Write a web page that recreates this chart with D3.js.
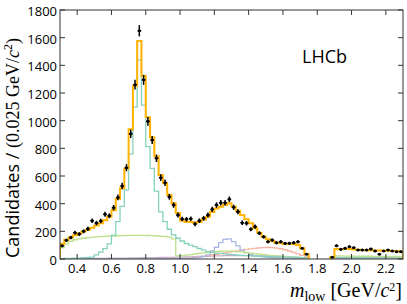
<!DOCTYPE html>
<html>
<head>
<meta charset="utf-8">
<script src="https://cdn.jsdelivr.net/npm/d3@7"></script>
<style>
  body { margin: 0; background: #fff; }
  svg { display: block; }
</style>
</head>
<body>
<div id="chart"></div>
<script>
// bins of 0.025 GeV from 0.3 to 2.3, null = vetoed region
const binLow = d3.range(80).map(i => 0.3 + i * 0.025)
const _ = null

const candidates = [95,135,155,190,180,200,218,277,260,275,
  323,313,371,445,528,660,905,1260,1650,1295,
  995,860,728,588,552,450,390,318,289,287,
  291,253,277,294,318,359,390,407,407,432,
  374,342,262,258,215,234,186,161,125,137,
  118,125,113,113,118,125,77,35,_,_,
  _,_,_,12,96,70,77,89,82,65,
  65,65,72,58,35,58,65,58,53,53]

const totalFit = [110,140,155,172,185,198,212,226,242,258,
  280,305,352,435,512,655,938,1253,1576,1323,
  1024,878,742,607,548,463,403,332,278,270,
  268,262,268,285,306,340,365,378,392,403,
  378,349,318,287,258,222,190,161,142,130,
  118,113,108,108,108,101,77,36,_,_,
  _,_,_,12,72,70,72,72,68,66,
  65,64,64,62,62,60,60,58,57,56]

const rhoComp = [3,4,5,6,7,9,11,14,30,50,
  75,110,173,270,380,500,760,1100,1440,1113,
  812,655,490,340,270,215,175,150,130,112,
  100,89,76,64,54,48,43,40,37,34,
  31,28,26,24,22,21,20,19,18,17,
  16,15,14,13,12,11,10,9,_,_,
  _,_,_,3,10,10,10,9,9,9,
  9,8,8,8,8,8,7,7,7,7]

const swaveComp = [80,110,128,139,145,150,154,157,160,162,
  164,165,166,168,169,170,171,171,171,171,
  170,169,168,166,163,158,145,22,25,28,
  32,36,40,44,48,51,54,56,57,57,
  56,54,51,47,43,39,35,31,28,25,
  22,20,18,16,14,12,10,8,_,_,
  _,_,_,4,22,22,21,21,21,20,
  20,20,20,19,19,19,18,18,18,18]

const f2Comp = [2,2,2,2,2,2,2,2,2,2,
  2,2,2,2,2,2,2,2,2,2,
  2,2,2,2,2,2,3,3,4,4,
  5,8,12,18,30,58,85,118,142,145,
  125,95,66,46,33,25,19,15,12,10,
  9,8,7,6,6,5,5,4,_,_,
  _,_,_,1,4,4,4,4,4,4,
  4,4,4,4,4,4,4,4,4,4]

const highComp = [1,1,1,1,1,1,1,1,1,1,
  1,1,1,1,1,1,1,1,1,1,
  1,1,1,1,1,1,2,2,3,5,
  8,11,15,19,24,29,34,39,44,49,
  54,59,64,69,73,77,80,82,83,82,
  79,74,67,58,48,37,26,15,_,_,
  _,_,_,2,8,8,8,8,8,8,
  8,8,8,8,8,8,8,8,8,8]

const bkgComp = [2,2,3,3,3,4,4,4,5,5,
  5,6,6,6,7,7,8,8,8,9,
  9,10,10,11,11,12,12,13,14,15,
  16,17,18,19,20,21,22,23,24,24,
  25,25,25,25,24,24,23,22,21,20,
  19,18,17,16,14,12,10,8,_,_,
  _,_,_,3,12,12,12,11,11,11,
  11,10,10,10,10,10,10,9,9,9]

const xTicks = [0.4, 0.6, 0.8, 1.0, 1.2, 1.4, 1.6, 1.8, 2.0, 2.2]
const xTickLabels = ["0.4", "0.6", "0.8", "1.0", "1.2", "1.4", "1.6", "1.8", "2.0", "2.2"]
const yTicks = [0, 200, 400, 600, 800, 1000, 1200, 1400, 1600, 1800]

const width = 407, height = 304
const margin = {left: 60, right: 4, top: 10, bottom: 45}
const binWidth = 0.025

const svg = d3.select("#chart").append("svg")
  .attr("width", width)
  .attr("height", height)

const x = d3.scaleLinear().domain([0.3, 2.3]).range([margin.left, width - margin.right])
const y = d3.scaleLinear().domain([0, 1800]).range([height - margin.bottom, margin.top])

svg.append("clipPath").attr("id", "plot")
  .append("rect")
  .attr("x", x.range()[0]).attr("y", y.range()[1])
  .attr("width", x.range()[1] - x.range()[0])
  .attr("height", y.range()[0] - y.range()[1])

const gPlot = svg.append("g").attr("clip-path", "url(#plot)")

// step outline, dropping to zero at the end of each run of bins
function histPath(values) {
  let pts = []
  let out = []
  values.forEach((v, i) => {
    if (v === null) {
      if (pts.length) { pts.push([pts[pts.length - 1][0], 0]); out.push(pts); pts = [] }
      return
    }
    let lo = binLow[i], hi = binLow[i] + binWidth
    if (!pts.length) pts.push([lo, 0])
    pts.push([lo, v], [hi, v])
  })
  if (pts.length) { pts.push([pts[pts.length - 1][0], 0]); out.push(pts) }
  let line = d3.line().x(d => x(d[0])).y(d => y(d[1]))
  return out.map(line).join("")
}

const components = [
  {values: bkgComp, color: "#c9aecb"},
  {values: highComp, color: "#f8b4a2"},
  {values: f2Comp, color: "#a9b9e6"},
  {values: swaveComp, color: "#bde08a"},
  {values: rhoComp, color: "#86d1bd"}
]

components.forEach(c => {
  gPlot.append("path")
    .attr("d", histPath(c.values))
    .attr("fill", "none")
    .attr("stroke", c.color)
    .attr("stroke-width", 1.3)
})

gPlot.append("path")
  .attr("d", histPath(totalFit))
  .attr("fill", "none")
  .attr("stroke", "#ffb300")
  .attr("stroke-width", 2)

// data points with poisson errors
const pts = candidates.map((v, i) => ({m: binLow[i] + binWidth / 2, n: v})).filter(d => d.n !== null)
const gData = gPlot.append("g").attr("stroke", "#000")
gData.selectAll(".ev").data(pts).enter().append("line")
  .attr("x1", d => x(d.m)).attr("x2", d => x(d.m))
  .attr("y1", d => y(d.n + Math.sqrt(d.n))).attr("y2", d => y(d.n - Math.sqrt(d.n)))
  .attr("stroke-width", 1.5)
gData.selectAll(".eh").data(pts).enter().append("line")
  .attr("x1", d => x(d.m - binWidth / 2) + 0.3).attr("x2", d => x(d.m + binWidth / 2) - 0.3)
  .attr("y1", d => y(d.n)).attr("y2", d => y(d.n))
  .attr("stroke-width", 1.5)
gData.selectAll("circle").data(pts).enter().append("circle")
  .attr("cx", d => x(d.m)).attr("cy", d => y(d.n)).attr("r", 1.5)
  .attr("fill", "#000").attr("stroke", "none")

// frame and inward ticks on all sides
const tickLen = 5
const gAxes = svg.append("g").attr("stroke", "#333").attr("stroke-width", 1)
gAxes.append("rect")
  .attr("x", x.range()[0]).attr("y", y.range()[1])
  .attr("width", x.range()[1] - x.range()[0])
  .attr("height", y.range()[0] - y.range()[1])
  .attr("fill", "none")

xTicks.forEach(t => {
  gAxes.append("line").attr("x1", x(t)).attr("x2", x(t))
    .attr("y1", y(0)).attr("y2", y(0) - tickLen)
  gAxes.append("line").attr("x1", x(t)).attr("x2", x(t))
    .attr("y1", y(1800)).attr("y2", y(1800) + tickLen)
})
yTicks.forEach(t => {
  gAxes.append("line").attr("x1", x(0.3)).attr("x2", x(0.3) + tickLen)
    .attr("y1", y(t)).attr("y2", y(t))
  gAxes.append("line").attr("x1", x(2.3)).attr("x2", x(2.3) - tickLen)
    .attr("y1", y(t)).attr("y2", y(t))
})

const sans = "'Open Sans', sans-serif"
const serif = "'Liberation Serif', serif"

svg.append("g").selectAll("text").data(xTicks).enter().append("text")
  .attr("x", d => x(d)).attr("y", y(0) + 14)
  .attr("text-anchor", "middle")
  .style("font-family", sans).style("font-size", "13px")
  .text((d, i) => xTickLabels[i])

svg.append("g").selectAll("text").data(yTicks).enter().append("text")
  .attr("x", x(0.3) - 3).attr("y", d => y(d) + 6)
  .attr("text-anchor", "end")
  .style("font-family", sans).style("font-size", "13px")
  .text(d => d)

svg.append("text")
  .attr("x", 302).attr("y", 63)
  .style("font-family", sans).style("font-size", "18px")
  .text("LHCb")

// y title
const yTitle = svg.append("text")
  .attr("transform", `translate(19,258) rotate(-90)`)
  .style("font-size", "18px")
yTitle.append("tspan").style("font-family", sans).text("Candidates / ")
yTitle.append("tspan").style("font-family", serif).text("(0.025 GeV/")
yTitle.append("tspan").style("font-family", serif).style("font-style", "italic").text("c")
yTitle.append("tspan").style("font-family", serif).style("font-size", "12px").attr("dy", -7).text("2")
yTitle.append("tspan").style("font-family", serif).attr("dy", 7).text(")")

// x title
const xTitle = svg.append("text")
  .attr("x", 402).attr("y", 297)
  .attr("text-anchor", "end")
  .style("font-family", serif).style("font-size", "20px")
xTitle.append("tspan").style("font-style", "italic").text("m")
xTitle.append("tspan").style("font-size", "14px").attr("dy", 4).text("low")
xTitle.append("tspan").attr("dy", -4).text(" [GeV/")
xTitle.append("tspan").style("font-style", "italic").text("c")
xTitle.append("tspan").style("font-size", "12px").attr("dy", -6).text("2")
xTitle.append("tspan").attr("dy", 6).text("]")
</script>
</body>
</html>
